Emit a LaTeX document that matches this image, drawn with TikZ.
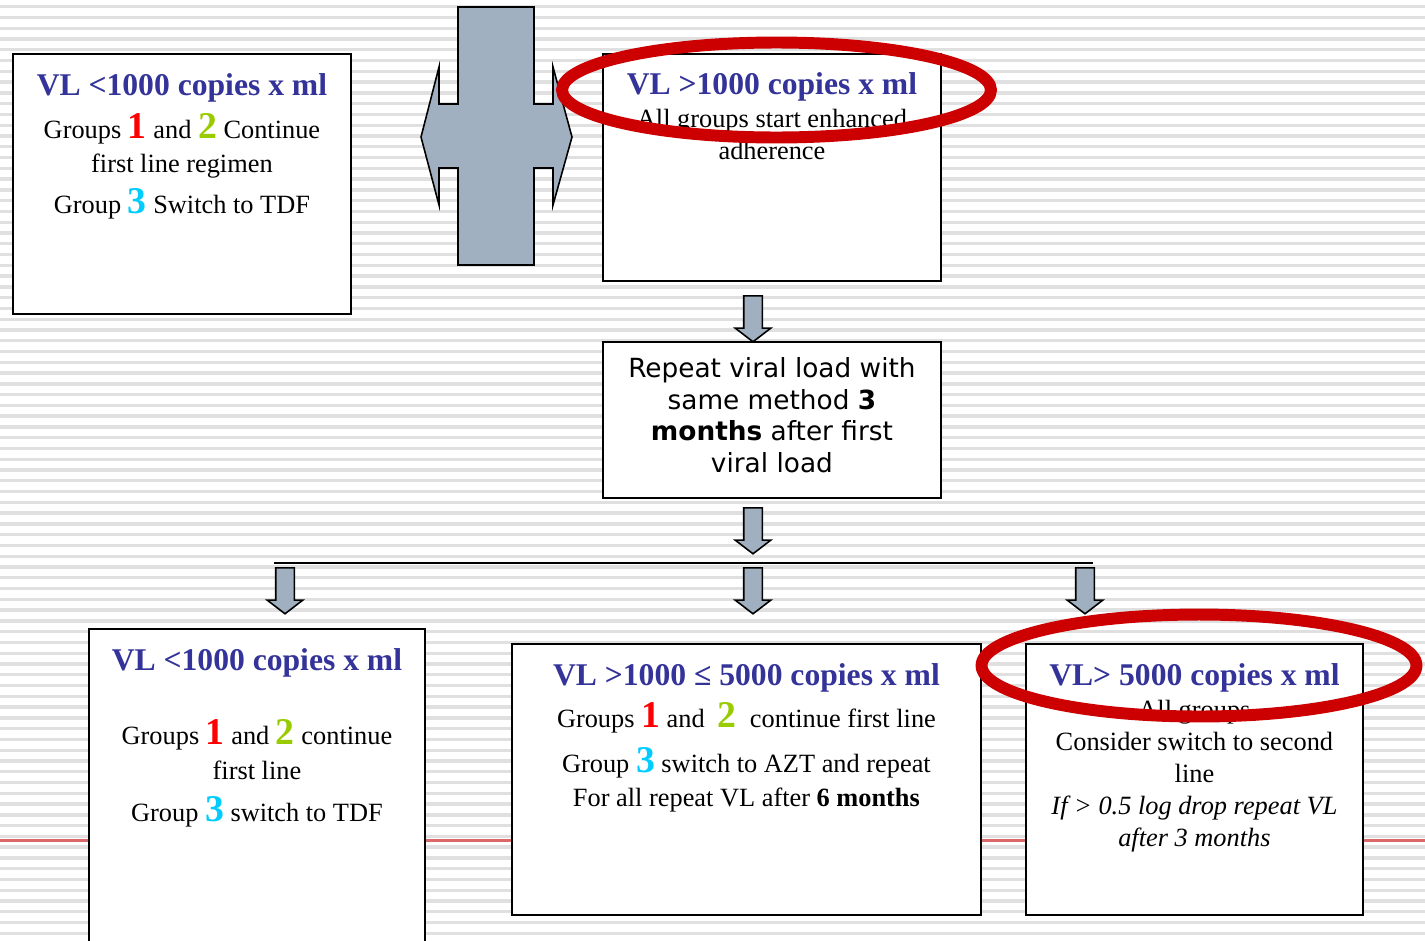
\documentclass[tikz,border=0pt]{standalone}
\usepackage{fontspec}
\setmainfont{Liberation Serif}
\newfontfamily\verdfont{DejaVu Sans}
\usetikzlibrary{shapes.arrows,calc}

\definecolor{titleblue}{RGB}{51,51,153}
\definecolor{numred}{RGB}{255,0,0}
\definecolor{numgreen}{RGB}{153,204,0}
\definecolor{numcyan}{RGB}{0,204,255}
\definecolor{ringred}{RGB}{204,0,0}
\definecolor{arrowfill}{RGB}{161,176,192}
\definecolor{stripegray}{RGB}{224,224,224}
\definecolor{rulered}{RGB}{220,105,105}

\newcommand{\bignum}[2]{{\fontsize{21.5}{21.5}\selectfont\bfseries\textcolor{#1}{#2}}}

\tikzset{
  box/.style={draw, line width=1.1pt, fill=white, anchor=north west, inner sep=0pt},
  boxtitle/.style={font=\fontsize{18}{21}\selectfont\bfseries, text=titleblue, anchor=base, inner sep=0pt},
  boxtext/.style={font=\fontsize{15}{19.3}\selectfont, align=center, anchor=north, inner sep=0pt},
  downarrow/.style={single arrow, draw, line width=0.9pt, fill=arrowfill, rotate=-90, anchor=tail,
    minimum height=0.92cm, minimum width=0pt, inner xsep=0pt, inner ysep=0.17cm,
    single arrow head extend=0.17cm, single arrow tip angle=105},
  ring/.style={draw=ringred, line width=6.8pt},
  stripe/.style={stripegray, line width=1.9pt}
}

\begin{document}
\begin{tikzpicture}[x=0.02cm,y=-0.02cm]
  \useasboundingbox (0,0) rectangle (1425,940);
  \clip (0,0) rectangle (1425,940);

  % striped background
  \fill[white] (0,0) rectangle (1425,940);
  \foreach \i in {0,...,86}
    \draw[stripe] (0,{6.7+10.775*\i}) -- (1425,{6.7+10.775*\i});
  \draw[rulered, line width=1.3pt] (0,840.5) -- (1425,840.5);

  % boxes
  \node[box, minimum width=6.76cm, minimum height=5.2cm] (b1) at (12,53) {};
  \node[box, minimum width=6.76cm, minimum height=4.54cm] (b2) at (602,53) {};
  \node[box, minimum width=6.76cm, minimum height=3.12cm] (b3) at (602,341) {};
  \node[box, minimum width=6.72cm, minimum height=6.6cm] (b4) at (88,628) {};
  \node[box, minimum width=9.38cm, minimum height=5.42cm] (b5) at (511,643) {};
  \node[box, minimum width=6.74cm, minimum height=5.42cm] (b6) at (1025,643) {};

  % up/down cross
  \draw[line width=0.9pt, fill=arrowfill] (458,7) -- (534,7) -- (534,104) -- (553,104)
    -- (553,67) -- (572,137) -- (553,205) -- (553,168) -- (534,168) -- (534,265)
    -- (458,265) -- (458,168) -- (439,168) -- (439,205) -- (421,137) -- (439,67)
    -- (439,104) -- (458,104) -- cycle;

  % texts
  \node[boxtitle] (h1) at ($(b1.north)+(0,42)$) {VL <1000 copies x ml};
  \node[boxtext] (t1) at ($(b1.north)+(0,60)$)
    {Groups \bignum{numred}{1} and \bignum{numgreen}{2} Continue\\
     first line regimen\\[4.4pt]
     Group \bignum{numcyan}{3} Switch to TDF};

  \node[boxtitle] (h2) at ($(b2.north)+(0,41)$) {VL >1000 copies x ml};
  \node[boxtext, font=\fontsize{15}{18.1}\selectfont] (t2) at ($(b2.north)+(0,56)$)
    {All groups start enhanced\\ adherence};

  \node[boxtext, font=\fontsize{15}{18.1}\selectfont\verdfont] (t3) at ($(b3.north)+(0,16)$)
    {Repeat viral load with\\ same method \textbf{3}\\ \textbf{months} after first\\ viral load};

  \node[boxtitle] (h4) at ($(b4.north)+(0,42)$) {VL <1000 copies x ml};
  \node[boxtext, font=\fontsize{15}{19.8}\selectfont] (t4) at ($(b4.north)+(0,91)$)
    {Groups \bignum{numred}{1} and \bignum{numgreen}{2} continue\\
     first line\\[4.1pt]
     Group \bignum{numcyan}{3} switch to TDF};

  \node[boxtitle] (h5) at ($(b5.north)+(0,42)$) {VL >1000 ≤ 5000 copies x ml};
  \node[boxtext, font=\fontsize{15}{19.8}\selectfont] (t5) at ($(b5.north)+(0,59)$)
    {Groups \bignum{numred}{1} and \ \bignum{numgreen}{2} \ continue first line\\[5.7pt]
     Group \bignum{numcyan}{3} switch to AZT and repeat\\
     For all repeat VL after \textbf{6 months}};

  \node[boxtitle] (h6) at ($(b6.north)+(0,42)$) {VL> 5000 copies x ml};
  \node[boxtext, font=\fontsize{15}{18.2}\selectfont] (t6) at ($(b6.north)+(0,57)$)
    {All groups\\ Consider switch to second\\ line\\
     \textit{If > 0.5 log drop repeat VL}\\ \textit{after 3 months}};

  % block arrows
  \node[downarrow] (a1) at (753,295) {};
  \node[downarrow] (a2) at (753,507) {};
  \coordinate (sw) at (274,563);
  \coordinate (se) at (1093,563);
  \draw[line width=1pt] (sw) -- (se);
  \node[downarrow] (a3) at (285,567) {};
  \node[downarrow] (a4) at (753,567) {};
  \node[downarrow] (a5) at (1085,567) {};

  % red rings
  \draw[ring] (776.5,90) ellipse [x radius=4.29cm, y radius=0.95cm];
  \draw[ring] (1199,665.5) ellipse [x radius=4.35cm, y radius=1.02cm];
\end{tikzpicture}
\end{document}
